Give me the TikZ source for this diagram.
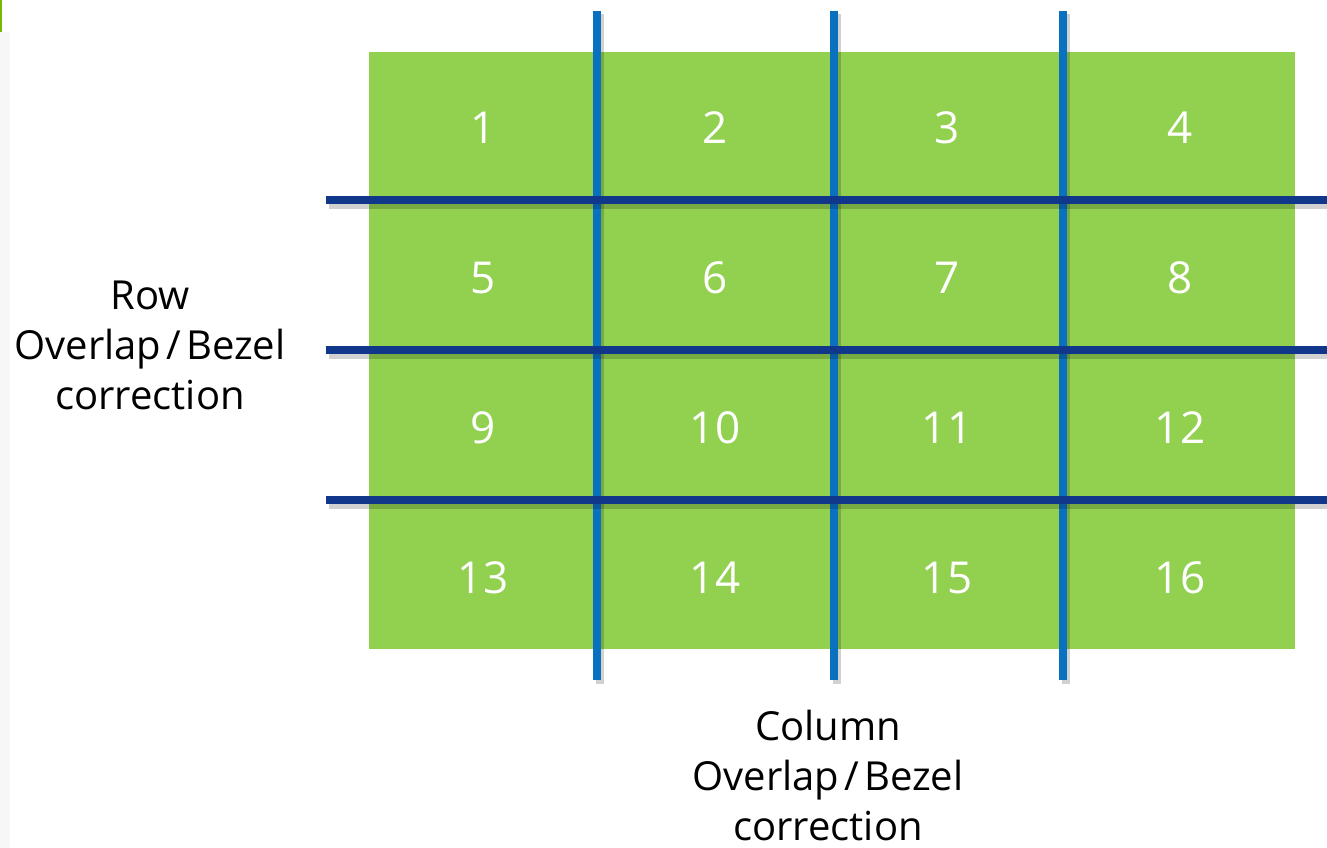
\documentclass[tikz,border=0pt]{standalone}
\usepackage{fontspec}
\setmainfont{Open Sans}
\definecolor{cellgreen}{HTML}{92D050}
\definecolor{rowblue}{HTML}{10378A}
\definecolor{colblue}{HTML}{0A70C0}
\definecolor{nvgreen}{HTML}{76B900}
\newcommand{\slashsp}{\kern5pt/\kern5pt}
\tikzset{
  hline/.style={draw=rowblue, line width=8pt},
  vline/.style={draw=colblue, line width=8.5pt},
  shadowline/.style={draw=black, opacity=0.18, line width=8pt},
  num/.style={text=white, font=\fontsize{44}{50}\selectfont, anchor=base},
  lbl/.style={text=black, font=\fontsize{40}{50}\selectfont, align=center, anchor=base}
}
\begin{document}
\begin{tikzpicture}[x=1pt,y=-1pt]
\useasboundingbox (0,0) rectangle (1327,848);
\fill[white] (0,0) rectangle (1327,848);
\fill[black!3] (0,32) rectangle (10,848);
\fill[nvgreen] (0,0) rectangle (2,32);
% green board
\node[fill=cellgreen, minimum width=926pt, minimum height=597pt, inner sep=0pt, anchor=north west] (board) at (369,52) {};
% numbers
\node[num] (n1) at (483,143) {1};
\node[num] (n2) at (715,143) {2};
\node[num] (n3) at (947,143) {3};
\node[num] (n4) at (1180,143) {4};
\node[num] (n5) at (483,293) {5};
\node[num] (n6) at (715,293) {6};
\node[num] (n7) at (947,293) {7};
\node[num] (n8) at (1180,293) {8};
\node[num] (n9) at (483,443) {9};
\node[num] (n10) at (715,443) {10};
\node[num] (n11) at (947,443) {11};
\node[num] (n12) at (1180,443) {12};
\node[num] (n13) at (483,593) {13};
\node[num] (n14) at (715,593) {14};
\node[num] (n15) at (947,593) {15};
\node[num] (n16) at (1180,593) {16};
% end points of the overlap lines
\coordinate (vt1) at (597,11);   \coordinate (vb1) at (597,680);
\coordinate (vt2) at (834,11);   \coordinate (vb2) at (834,680);
\coordinate (vt3) at (1063,11);  \coordinate (vb3) at (1063,680);
\coordinate (vts1) at (600,14);  \coordinate (vbs1) at (600,684);
\coordinate (vts2) at (837,14);  \coordinate (vbs2) at (837,684);
\coordinate (vts3) at (1066,14); \coordinate (vbs3) at (1066,684);
\coordinate (hl1) at (326,200);  \coordinate (hr1) at (1327,200);
\coordinate (hl2) at (326,350);  \coordinate (hr2) at (1327,350);
\coordinate (hl3) at (326,500);  \coordinate (hr3) at (1327,500);
\coordinate (hls1) at (329,204); \coordinate (hrs1) at (1327,204);
\coordinate (hls2) at (329,354); \coordinate (hrs2) at (1327,354);
\coordinate (hls3) at (329,504); \coordinate (hrs3) at (1327,504);
% vertical lines with shadow
\draw[shadowline] (vts1) -- (vbs1);
\draw[shadowline] (vts2) -- (vbs2);
\draw[shadowline] (vts3) -- (vbs3);
\draw[vline] (vt1) -- (vb1);
\draw[vline] (vt2) -- (vb2);
\draw[vline] (vt3) -- (vb3);
% horizontal lines with shadow
\draw[shadowline, line width=10pt] (hls1) -- (hrs1);
\draw[shadowline, line width=10pt] (hls2) -- (hrs2);
\draw[shadowline, line width=10pt] (hls3) -- (hrs3);
\draw[hline] (hl1) -- (hr1);
\draw[hline] (hl2) -- (hr2);
\draw[hline] (hl3) -- (hr3);
% labels
\node[lbl] (rowlbl) at (150,409) {Row\\Overlap\slashsp Bezel\\correction};
\node[lbl] (collbl) at (828,840) {Column\\Overlap\slashsp Bezel\\correction};
\end{tikzpicture}
\end{document}
